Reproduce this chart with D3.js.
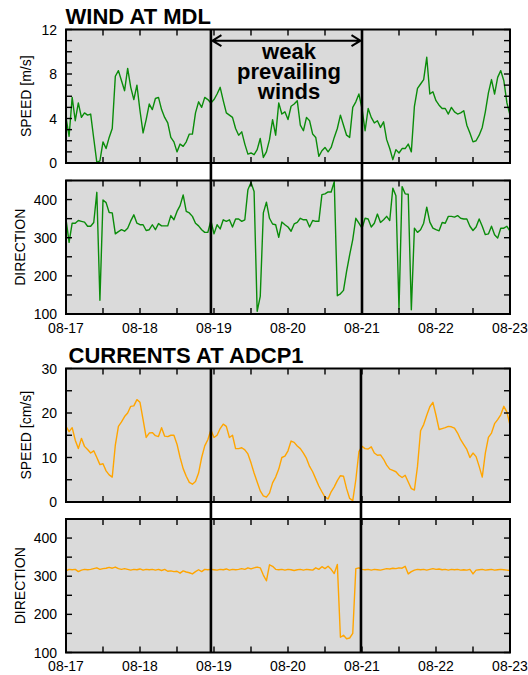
<!DOCTYPE html>
<html>
<head>
<meta charset="utf-8">
<script src="https://cdn.jsdelivr.net/npm/d3@7"></script>
<style>
body { margin: 0; background: #fff; }
svg { display: block; }
text { font-family: "Liberation Sans", Arial, sans-serif; fill: #000; }
</style>
</head>
<body>
<div id="chart"></div>
<script>
// hourly samples, first one at 08-17 00:00
var startDate = new Date(2012, 7, 17);
var endDate = new Date(2012, 7, 23);

var windSpeed = [
    4.1, 2.4, 5.9, 3.8, 5.4, 4.1, 4.5, 4.3, 4.4, 2.2, 0.05, 0.2,
    1.9, 1.3, 2.3, 3.1, 7.8, 8.3, 7.4, 6.5, 8.5, 6.8, 5.7, 7.0,
    4.7, 2.7, 3.9, 5.3, 4.8, 5.8, 5.9, 4.8, 4.1, 3.6, 2.3, 1.9,
    1.0, 1.7, 1.5, 1.9, 2.6, 2.6, 4.5, 5.5, 5.0, 5.9, 5.7, 5.4,
    5.7, 6.2, 6.8, 5.6, 4.5, 4.3, 4.1, 3.1, 2.5, 2.8, 1.7, 0.8,
    0.9, 0.75, 1.2, 2.2, 0.5, 1.0, 2.1, 3.9, 2.5, 5.4, 4.4, 4.6,
    3.9, 5.1, 5.3, 5.6, 3.4, 2.9, 4.1, 3.8, 2.6, 2.3, 0.6, 1.1,
    1.4, 1.0, 1.4, 2.3, 3.1, 4.3, 3.4, 2.5, 2.3, 5.0, 5.5, 6.2,
    4.9, 2.9, 4.9, 4.1, 3.6, 3.8, 3.2, 3.7, 2.1, 1.3, 0.3, 1.2,
    0.9, 1.3, 1.3, 1.7, 1.0, 5.1, 6.7, 7.1, 7.5, 9.5, 6.2, 6.4,
    5.6, 5.2, 4.9, 4.9, 4.4, 5.0, 4.6, 4.4, 4.5, 4.7, 3.4, 2.7,
    1.9, 2.0, 2.5, 3.2, 4.6, 6.3, 7.5, 6.2, 7.7, 8.3, 7.4, 5.4,
    4.3
];

var windDir = [
    349, 288, 338, 338, 345, 343, 341, 330, 330, 340, 419, 136,
    399, 392, 366, 365, 310, 316, 321, 317, 325, 344, 360, 338,
    334, 334, 319, 321, 334, 321, 337, 331, 331, 331, 358, 347,
    369, 384, 412, 369, 365, 356, 338, 331, 321, 314, 314, 345,
    310, 334, 323, 347, 343, 347, 328, 349, 349, 343, 347, 426,
    445, 421, 107, 146, 365, 393, 351, 336, 334, 301, 341, 334,
    328, 317, 336, 340, 351, 347, 347, 328, 345, 343, 343, 413,
    415, 420, 420, 447, 148, 153, 162, 212, 255, 295, 351, 338,
    325, 351, 349, 328, 338, 362, 340, 347, 356, 345, 430, 410,
    113, 434, 415, 414, 111, 325, 314, 321, 338, 380, 341, 325,
    321, 318, 340, 338, 356, 356, 354, 358, 351, 349, 349, 330,
    319, 328, 349, 330, 308, 310, 330, 308, 299, 325, 325, 330,
    317
];

var currentSpeed = [
    17.0, 15.8, 16.7, 13.9, 12.0, 14.3, 12.5, 11.8, 11.0, 11.5, 10.0, 8.4,
    8.6, 7.0, 6.1, 5.6, 12.8, 17.0, 18.0, 19.2, 20.0, 21.5, 21.6, 23.0,
    22.4, 18.5, 14.5, 15.5, 15.6, 14.9, 14.7, 16.7, 14.8, 14.7, 15.0, 15.0,
    13.0, 10.0, 7.5, 5.8, 4.4, 4.0, 4.6, 6.5, 10.0, 12.6, 14.0, 16.2,
    14.5, 15.0, 16.5, 17.5, 17.0, 14.5, 15.0, 12.0, 12.0, 12.2, 11.7, 10.8,
    8.8, 6.5, 4.5, 2.5, 1.4, 1.1, 2.0, 4.3, 5.6, 7.4, 10.0, 10.3,
    11.5, 13.7, 13.4, 12.6, 12.0, 11.0, 9.8, 8.0, 6.8, 5.2, 3.6, 2.3,
    1.1, 0.7, 2.3, 3.4, 4.8, 5.9, 5.8, 3.0, 0.8, 0.3, 5.0, 11.3,
    12.5, 12.0, 11.9, 12.4, 11.0, 10.5, 10.6, 9.6, 8.3, 7.4, 7.1, 6.8,
    6.0, 5.5, 6.0, 4.5, 3.0, 2.7, 8.0, 16.0, 17.4, 19.5, 21.4, 22.4,
    19.5, 16.3, 16.5, 16.7, 17.0, 16.9, 16.6, 15.5, 14.0, 12.9, 11.8, 10.0,
    11.0, 10.2, 8.0, 5.6, 11.0, 14.5, 15.5, 17.6, 18.5, 19.6, 21.5, 20.2,
    17.3
];

var currentDir = [
    314, 318, 317, 318, 312, 316, 318, 317, 318, 320, 322, 318,
    320, 321, 323, 321, 324, 320, 318, 320, 318, 316, 318, 317,
    319, 316, 318, 317, 318, 316, 318, 315, 318, 313, 314, 312,
    313, 308, 314, 311, 309, 306, 312, 317, 312, 318, 317, 318,
    317, 316, 318, 317, 319, 316, 318, 317, 318, 320, 318, 322,
    319, 322, 324, 322, 303, 288, 330, 326, 318, 317, 318, 316,
    318, 317, 315, 317, 318, 316, 318, 317, 316, 322, 318, 325,
    320, 326, 318, 307, 331, 140, 145, 136, 138, 150, 320, 322,
    318, 317, 318, 316, 318, 317, 316, 318, 320, 319, 321, 320,
    322, 321, 326, 306, 312, 316, 318, 317, 318, 316, 318, 320,
    318, 319, 317, 318, 316, 318, 317, 318, 316, 317, 316, 318,
    306, 316, 317, 318, 316, 317, 318, 316, 317, 318, 317, 316,
    315
];

var windSpeedLabels = [0, 4, 8, 12];
var currentSpeedLabels = [0, 10, 20, 30];
var directionLabels = [100, 200, 300, 400];
var noteLines = ["weak", "prevailing", "winds"];

// the two black time markers in each group
var windMarks = [new Date(2012, 7, 18, 23), new Date(2012, 7, 21, 0)];
var currentMarks = [new Date(2012, 7, 18, 23), new Date(2012, 7, 20, 23, 40)];

var width = 528, height = 675;
var left = 66, right = 510;

var svg = d3.select("#chart").append("svg")
    .attr("width", width)
    .attr("height", height);

var x = d3.scaleTime().domain([startDate, endDate]).range([left, right]);
var hourTime = function(i) { return d3.timeHour.offset(startDate, i); };
var fmt = d3.timeFormat("%m-%d");

var panels = [
    { id: "p1", top: 29.5, bottom: 163, domain: [0, 12], step: 1, labels: windSpeedLabels,
      values: windSpeed, color: "#0a8c0a", title: "SPEED [m/s]", titleX: 31, dates: false },
    { id: "p2", top: 180.5, bottom: 314, domain: [100, 450], step: 50, labels: directionLabels,
      values: windDir, color: "#0a8c0a", title: "DIRECTION", titleX: 24.5, dates: true },
    { id: "p3", top: 368.5, bottom: 502, domain: [0, 30], step: 5, labels: currentSpeedLabels,
      values: currentSpeed, color: "#ffa500", title: "SPEED [cm/s]", titleX: 31, dates: false },
    { id: "p4", top: 519, bottom: 652.5, domain: [100, 450], step: 50, labels: directionLabels,
      values: currentDir, color: "#ffa500", title: "DIRECTION", titleX: 24.5, dates: true }
];

var halfDays = x.ticks(d3.timeHour.every(12));
var days = x.ticks(d3.timeDay.every(1));

function drawPanel(p) {
    var g = svg.append("g");
    var y = d3.scaleLinear().domain(p.domain).range([p.bottom, p.top]);

    g.append("rect")
        .attr("x", left).attr("y", p.top)
        .attr("width", right - left).attr("height", p.bottom - p.top)
        .attr("fill", "#dadada");

    svg.append("clipPath").attr("id", "clip-" + p.id)
        .append("rect")
        .attr("x", left).attr("y", p.top)
        .attr("width", right - left).attr("height", p.bottom - p.top);

    var line = d3.line()
        .x(function(d, i) { return x(hourTime(i)); })
        .y(function(d) { return y(d); });

    g.append("path")
        .datum(p.values)
        .attr("clip-path", "url(#clip-" + p.id + ")")
        .attr("d", line)
        .attr("fill", "none")
        .attr("stroke", p.color)
        .attr("stroke-width", 1.4)
        .attr("stroke-linejoin", "round");

    // inward ticks on all four sides
    var tk = 6;
    halfDays.forEach(function(t) {
        var xx = x(t);
        g.append("line").attr("x1", xx).attr("x2", xx).attr("y1", p.bottom).attr("y2", p.bottom - tk);
        g.append("line").attr("x1", xx).attr("x2", xx).attr("y1", p.top).attr("y2", p.top + tk);
    });
    d3.range(p.domain[0], p.domain[1] + 0.001, p.step).forEach(function(v) {
        var yy = y(v);
        g.append("line").attr("x1", left).attr("x2", left + tk).attr("y1", yy).attr("y2", yy);
        g.append("line").attr("x1", right).attr("x2", right - tk).attr("y1", yy).attr("y2", yy);
    });
    g.selectAll("line").attr("stroke", "#000").attr("stroke-width", 1.4);

    g.selectAll(".ylab")
        .data(p.labels)
        .enter()
        .append("text")
        .attr("class", "ylab")
        .attr("x", 57)
        .attr("y", function(d) { return y(d); })
        .attr("dy", "0.36em")
        .attr("text-anchor", "end")
        .style("font-size", "14px")
        .text(function(d) { return d; });

    if (p.dates) {
        g.selectAll(".xlab")
            .data(days)
            .enter()
            .append("text")
            .attr("class", "xlab")
            .attr("x", function(d) { return x(d); })
            .attr("y", p.bottom + 18.5)
            .attr("text-anchor", "middle")
            .style("font-size", "14px")
            .text(function(d) { return fmt(d); });
    }

    g.append("text")
        .attr("transform", "translate(" + p.titleX + "," + ((p.top + p.bottom) / 2) + ") rotate(-90)")
        .attr("text-anchor", "middle")
        .style("font-size", "14px")
        .text(p.title);

    g.append("rect")
        .attr("x", left).attr("y", p.top)
        .attr("width", right - left).attr("height", p.bottom - p.top)
        .attr("fill", "none")
        .attr("stroke", "#000")
        .attr("stroke-width", 2);
}

panels.forEach(drawPanel);

// time markers spanning each pair of panels
function drawMarks(marks, top, bottom) {
    marks.forEach(function(t) {
        svg.append("line")
            .attr("x1", x(t)).attr("x2", x(t))
            .attr("y1", top).attr("y2", bottom)
            .attr("stroke", "#000")
            .attr("stroke-width", 2.6);
    });
}
drawMarks(windMarks, panels[0].top, panels[1].bottom);
drawMarks(currentMarks, panels[2].top, panels[3].bottom);

// double arrow + note
var ax1 = x(windMarks[0]) + 1.5, ax2 = x(windMarks[1]) - 1.5, ay = 40.7;
svg.append("path")
    .attr("d", "M" + ax1 + "," + ay + "H" + ax2 +
        "M" + (ax1 + 9) + "," + (ay - 5.5) + "L" + ax1 + "," + ay + "L" + (ax1 + 9) + "," + (ay + 5.5) +
        "M" + (ax2 - 9) + "," + (ay - 5.5) + "L" + ax2 + "," + ay + "L" + (ax2 - 9) + "," + (ay + 5.5))
    .attr("fill", "none")
    .attr("stroke", "#000")
    .attr("stroke-width", 2);

svg.selectAll(".note")
    .data(noteLines)
    .enter()
    .append("text")
    .attr("class", "note")
    .attr("x", 289)
    .attr("y", function(d, i) { return 59 + i * 20.2; })
    .attr("text-anchor", "middle")
    .style("font-size", "22px")
    .style("font-weight", "bold")
    .text(function(d) { return d; });

svg.append("text")
    .attr("x", 65.5).attr("y", 23.5)
    .style("font-size", "22px")
    .style("font-weight", "bold")
    .text("WIND AT MDL");

svg.append("text")
    .attr("x", 68.5).attr("y", 363)
    .style("font-size", "22px")
    .style("font-weight", "bold")
    .text("CURRENTS AT ADCP1");
</script>
</body>
</html>
